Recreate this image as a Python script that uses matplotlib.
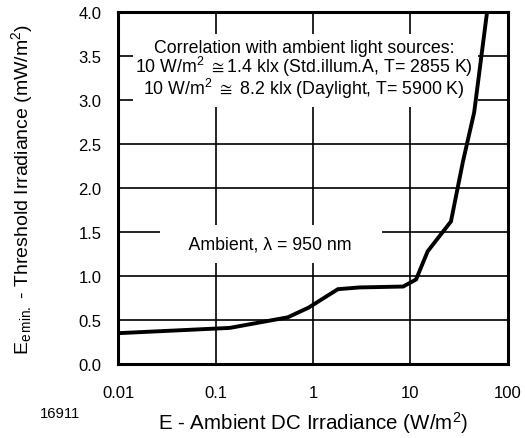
import matplotlib
matplotlib.use("Agg")
import matplotlib.pyplot as plt
from matplotlib.patches import Rectangle

plt.rcParams['font.family'] = ['Liberation Sans', 'DejaVu Sans']
plt.rcParams['mathtext.fontset'] = 'custom'
plt.rcParams['mathtext.rm'] = 'Liberation Sans'
plt.rcParams['mathtext.it'] = 'Liberation Sans:italic'
plt.rcParams['mathtext.fallback'] = 'stixsans'

# Data
ambient_irr = [0.01, 0.14, 0.55, 0.9, 1.8, 3.0, 8.4, 11.4, 15.0, 26.0, 34.5, 45.0, 61.0]
threshold = [0.35, 0.41, 0.53, 0.64, 0.85, 0.87, 0.88, 0.96, 1.28, 1.62, 2.3, 2.86, 4.0]

x_ticks = [0.01, 0.1, 1, 10, 100]
x_labels = ["0.01", "0.1", "1", "10", "100"]
y_ticks = [0.0, 0.5, 1.0, 1.5, 2.0, 2.5, 3.0, 3.5, 4.0]
y_labels = ["0.0", "0.5", "1.0", "1.5", "2.0", "2.5", "3.0", "3.5", "4.0"]

note_lines = [
    "Correlation with ambient light sources:",
    "10 W/m$^{2}$ $\\cong$1.4 klx (Std.illum.A, T= 2855 K)",
    "10 W/m$^{2}$ $\\cong$ 8.2 klx (Daylight, T= 5900 K)",
]

fig = plt.figure(figsize=(5.25, 4.39), dpi=100)
ax = fig.add_axes([0.2248, 0.1686, 0.9676 - 0.2248, 0.9704 - 0.1686])

ax.set_xscale('log')
ax.set_xlim(0.01, 100)
ax.set_ylim(0, 4.0)
ax.set_xticks(x_ticks)
ax.set_xticklabels(x_labels)
ax.set_yticks(y_ticks)
ax.set_yticklabels(y_labels)
ax.minorticks_off()
ax.tick_params(axis='both', length=0, labelsize=12)
ax.tick_params(axis='x', pad=15)
ax.tick_params(axis='y', pad=12)
ax.grid(True, color='black', linewidth=1.2)
ax.set_axisbelow(True)
for s in ax.spines.values():
    s.set_linewidth(2.2)
    s.set_zorder(5)

ax.plot(ambient_irr, threshold, color='black', linewidth=2.8, zorder=4,
        solid_joinstyle='miter')

# white background panel for the correlation note
ax.add_patch(Rectangle((0.0385, 0.730), 0.923 - 0.0385, 0.9375 - 0.730,
                       transform=ax.transAxes, facecolor='white',
                       edgecolor='none', zorder=2.5))
for txt, yb in zip(note_lines, [3.549, 3.315, 3.068]):
    ax.text(0.81, yb, txt, ha='center', va='baseline', fontsize=12.8, zorder=3)

ax.text(0.37, 1.36, "    Ambient, \u03bb = 950 nm    ",
        ha='center', va='center', fontsize=12.8, zorder=3,
        bbox=dict(boxstyle='square,pad=0.6', facecolor='white', edgecolor='none'))

ax.set_xlabel("E - Ambient DC Irradiance (W/m$^{2}$)", fontsize=14.8, labelpad=7)
ax.set_ylabel("E$_{\\mathregular{e\\,min.}}$ - Threshold Irradiance (mW/m$^{2}$)",
              fontsize=14, labelpad=31)

fig.text(40 / 525, 1 - 414 / 439, "16911", fontsize=10.7, va='center', ha='left')

fig.savefig("out.png", dpi=100)
